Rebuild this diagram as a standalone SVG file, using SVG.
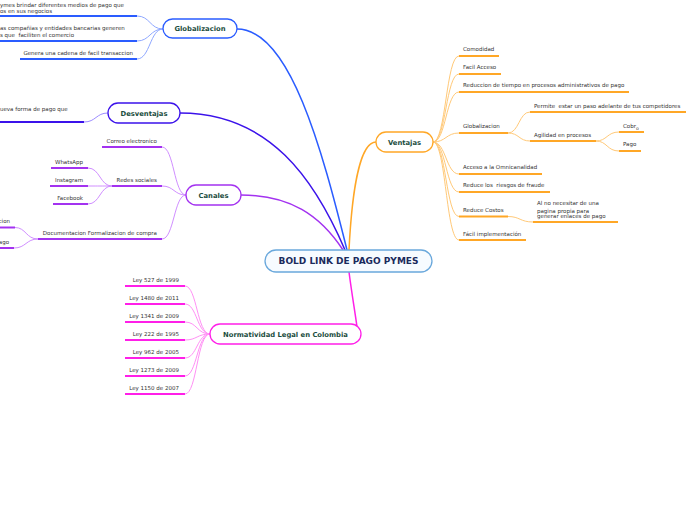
<svg xmlns="http://www.w3.org/2000/svg" width="696" height="520" viewBox="0 0 696 520">
<style>
.t{font-family:"DejaVu Sans",Verdana,sans-serif;font-size:5.5px;fill:#333}
.e{text-anchor:end}
.n{font-family:"DejaVu Sans",Verdana,sans-serif;font-weight:bold;font-size:6.8px;fill:#1b4d3e;text-anchor:middle}
.box{fill:#fff;stroke-width:1.3}
.c{fill:none;stroke-width:1}
.u{fill:none;stroke-width:2}
.m{fill:none;stroke-width:1.5}
.blue .c{stroke:#8fa8ff}.blue .u{stroke:#2a5cff}
.ind .c{stroke:#9d8cff}.ind .u{stroke:#3b12ea}
.pur .c{stroke:#d08eff}.pur .u{stroke:#a332f0}
.mag .c{stroke:#ff90f5}.mag .u{stroke:#ff1fe8}
.ora .c{stroke:#ffc978}.ora .u{stroke:#ffa726}
</style>
<g id="connectors">
<path class="m" stroke="#a332f0" d="M241,195 C290,195 320,215 343,250"/>
<path class="m" stroke="#3b12ea" d="M180,113 C270,113 315,180 345,250"/>
<path class="m" stroke="#2a5cff" d="M237,29 C290,29 322,150 347,250"/>
<path class="m" stroke="#ffa726" d="M376,142 C360,142 352,190 349,250"/>
<path class="m" stroke="#ff1fe8" d="M349,272 C352,295 355,312 357,327"/>
<g class="blue">
<path class="c" d="M137,16 C150,16 150,29 163,29"/>
<path class="c" d="M137,41 C150,41 150,29 163,29"/>
<path class="c" d="M137,59 C150,59 150,29 163,29"/>
</g>
<g class="ind">
<path class="c" d="M84,122 C96,122 96,113 108,113"/>
</g>
<g class="pur">
<path class="c" d="M162,147 C174,147 174,195 186,195"/>
<path class="c" d="M162,186 C174,186 174,195 186,195"/>
<path class="c" d="M162,239 C174,239 174,195 186,195"/>
<path class="c" d="M88,168 C100,168 100,186 112,186"/>
<path class="c" d="M88,186 C100,186 100,186 112,186"/>
<path class="c" d="M88,204 C100,204 100,186 112,186"/>
<path class="c" d="M15,227.5 C26,227.5 26,239 38,239"/>
<path class="c" d="M14,248 C26,248 26,239 38,239"/>
</g>
<g class="mag">
<path class="c" d="M185,286 C197,286 197,334 210,334"/>
<path class="c" d="M185,304 C197,304 197,334 210,334"/>
<path class="c" d="M185,322 C197,322 197,334 210,334"/>
<path class="c" d="M185,340 C197,340 197,334 210,334"/>
<path class="c" d="M185,358 C197,358 197,334 210,334"/>
<path class="c" d="M185,376 C197,376 197,334 210,334"/>
<path class="c" d="M185,394 C197,394 197,334 210,334"/>
</g>
<g class="ora">
<path class="c" d="M433,142 C446,142 446,56 459,56"/>
<path class="c" d="M433,142 C446,142 446,74 459,74"/>
<path class="c" d="M433,142 C446,142 446,92 459,92"/>
<path class="c" d="M433,142 C446,142 446,133 459,133"/>
<path class="c" d="M433,142 C446,142 446,174 459,174"/>
<path class="c" d="M433,142 C446,142 446,192 459,192"/>
<path class="c" d="M433,142 C446,142 446,216.5 459,216.5"/>
<path class="c" d="M433,142 C446,142 446,240 459,240"/>
<path class="c" d="M508,133 C519,133 519,112 530,112"/>
<path class="c" d="M508,133 C519,133 519,141 530,141"/>
<path class="c" d="M596,141 C607,141 607,132 619,132"/>
<path class="c" d="M596,141 C607,141 607,151 619,151"/>
<path class="c" d="M508,216.5 C520,216.5 520,222 533,222"/>
</g>
</g>
<g id="center">
<rect x="265" y="250" width="167" height="22" rx="11" fill="#f7fbff" stroke="#6aa8dc" stroke-width="1.3"/>
<text x="348.5" y="264.2" font-family="DejaVu Sans,Verdana,sans-serif" font-weight="bold" font-size="9" fill="#1a2a5c" text-anchor="middle">BOLD LINK DE PAGO PYMES</text>
</g>
<g id="globalizacion" class="blue">
<rect class="box" x="163" y="19" width="74" height="19" rx="9.5" stroke="#2a5cff"/>
<text class="n" x="200" y="31">Globalizacion</text>
<path class="u" d="M0,16H137"/><path class="u" d="M0,41H137"/><path class="u" d="M20,59H137"/>
<text class="t" x="0" y="6.5">ymes brindar diferentes medios de pago que</text>
<text class="t" x="0" y="12.5">os en sus negocios</text>
<text class="t" x="0" y="30">as compañias y entidades bancarias generen</text>
<text class="t" x="0" y="36.5" xml:space="preserve">s que  faciliten el comercio</text>
<text class="t e" x="133" y="54.5">Genera una cadena de facil transaccion</text>
</g>
<g id="desventajas" class="ind">
<rect class="box" x="108" y="103" width="72" height="20" rx="10" stroke="#3b12ea"/>
<text class="n" x="144" y="115.5">Desventajas</text>
<path class="u" d="M0,122H84"/>
<text class="t" x="0" y="111">ueva forma de pago que</text>
</g>
<g id="canales" class="pur">
<rect class="box" x="186" y="185" width="55" height="20" rx="10" stroke="#a332f0"/>
<text class="n" x="213.5" y="197.5">Canales</text>
<path class="u" d="M102,147H162"/><path class="u" d="M112,186H162"/><path class="u" d="M38,239H162"/>
<path class="u" d="M51,168H88"/><path class="u" d="M50,186H88"/><path class="u" d="M53,204H88"/>
<path class="u" d="M0,227.5H15"/><path class="u" d="M0,248H14"/>
<text class="t e" x="157" y="143">Correo electronico</text>
<text class="t e" x="157" y="182">Redes sociales</text>
<text class="t e" x="83" y="164">WhatsApp</text>
<text class="t e" x="83" y="182">Instagram</text>
<text class="t e" x="83" y="200">Facebook</text>
<text class="t e" x="157" y="235">Documentacion Formalizacion de compra</text>
<text class="t e" x="10" y="222.5">cion</text>
<text class="t e" x="9" y="244">ago</text>
</g>
<g id="normatividad" class="mag">
<rect class="box" x="210" y="324" width="151" height="20" rx="10" stroke="#ff1fe8"/>
<text class="n" x="285.5" y="336.5">Normatividad Legal en Colombia</text>
<path class="u" d="M125,286H185"/><path class="u" d="M125,304H185"/><path class="u" d="M125,322H185"/>
<path class="u" d="M125,340H185"/><path class="u" d="M125,358H185"/><path class="u" d="M125,376H185"/>
<path class="u" d="M125,394H185"/>
<text class="t e" x="179" y="282">Ley 527 de 1999</text>
<text class="t e" x="179" y="300">Ley 1480 de 2011</text>
<text class="t e" x="179" y="318">Ley 1341 de 2009</text>
<text class="t e" x="179" y="336">Ley 222 de 1995</text>
<text class="t e" x="179" y="354">Ley 962 de 2005</text>
<text class="t e" x="179" y="372">Ley 1273 de 2009</text>
<text class="t e" x="179" y="390">Ley 1150 de 2007</text>
</g>
<g id="ventajas" class="ora">
<rect class="box" x="376" y="132" width="57" height="20" rx="10" stroke="#ffa726"/>
<text class="n" x="404.5" y="144.5">Ventajas</text>
<path class="u" d="M459,56H499"/><path class="u" d="M459,74H501"/><path class="u" d="M459,92H629"/>
<path class="u" d="M459,133H508"/><path class="u" d="M530,112H686"/><path class="u" d="M530,141H596"/>
<path class="u" d="M619,132H644"/><path class="u" d="M619,151H641"/>
<path class="u" d="M459,174H542"/><path class="u" d="M459,192H550"/><path class="u" d="M459,216.5H508"/>
<path class="u" d="M533,222H618"/><path class="u" d="M459,240H526"/>
<text class="t" x="463" y="51">Comodidad</text>
<text class="t" x="463" y="69">Facil Acceso</text>
<text class="t" x="463" y="87">Reduccion de tiempo en procesos administrativos de pago</text>
<text class="t" x="463" y="128">Globalizacion</text>
<text class="t" x="534" y="108" xml:space="preserve">Permite  estar un paso adelante de tus competidores</text>
<text class="t" x="534" y="137">Agilidad en procesos</text>
<text class="t" x="623" y="128">Cobr<tspan dy="1.8" font-size="4.6">o</tspan></text>
<text class="t" x="623" y="146">Pago</text>
<text class="t" x="463" y="169">Acceso a la Omnicanalidad</text>
<text class="t" x="463" y="187" xml:space="preserve">Reduce los  riesgos de fraude</text>
<text class="t" x="463" y="212">Reduce Costos</text>
<text class="t" x="537" y="205">Al no necesitar de una</text>
<text class="t" x="537" y="212.5">pagina propia para</text>
<text class="t" x="537" y="218">generar enlaces de pago</text>
<text class="t" x="463" y="236">Fácil implementación</text>
</g>
</svg>
